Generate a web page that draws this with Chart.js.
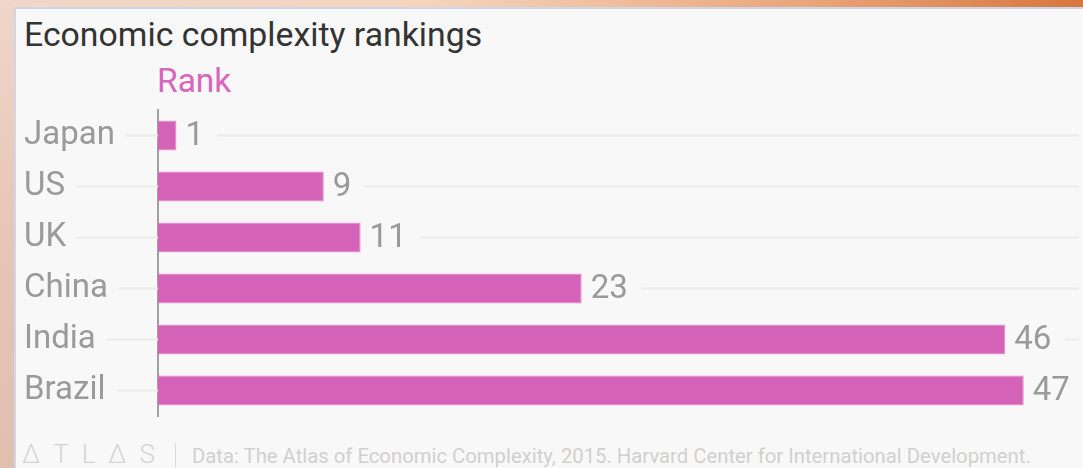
<!DOCTYPE html>
<html>
<head>
<meta charset="utf-8">
<script src="https://cdn.jsdelivr.net/npm/chart.js@4/dist/chart.umd.min.js"></script>
<style>
  html, body { margin: 0; padding: 0; }
  body { width: 1083px; height: 468px; position: relative; overflow: hidden; font-family: Roboto, sans-serif; }
  #topStrip { position: absolute; left: 0; top: 0; width: 1083px; height: 7px;
    background: linear-gradient(to right, #f0d6ca 0%, #f4d4bc 40%, #e9a57a 75%, #d7763f 100%); }
  #leftStrip { position: absolute; left: 0; top: 0; width: 14px; height: 468px;
    background: linear-gradient(to bottom, #f0d6ca 0%, #e6c6b6 50%, #dfbfae 100%); }
  #card { position: absolute; left: 14px; top: 7px; width: 1069px; height: 461px; background: #f8f8f8;
    border-left: 2px solid #cfd7e4; border-top: 2px solid #cfd7e4; box-sizing: border-box; }
  .txt { position: absolute; line-height: 1; white-space: nowrap; }
  #title { left: 24px; top: 18px; font-size: 33.8px; color: #333; }
  #rank { left: 157px; top: 64px; font-size: 33.5px; color: #d766bc; }
  #logo { left: 22px; top: 441px; font-size: 26px; color: #d4d4d4; letter-spacing: 13px; font-weight: 300; }
  #divider { position: absolute; left: 175px; top: 443px; width: 1px; height: 25px; background: #dcdcdc; }
  #source { left: 192px; top: 446px; font-size: 20.3px; color: #d0d0d0; }
  #chart { position: absolute; left: 0; top: 100px; }
</style>
</head>
<body>
<div id="topStrip"></div>
<div id="leftStrip"></div>
<div id="card"></div>
<div class="txt" id="title">Economic complexity rankings</div>
<div class="txt" id="rank">Rank</div>
<canvas id="chart" width="1083" height="326"></canvas>
<div class="txt" id="logo">ΔTLΔS</div>
<div id="divider"></div>
<div class="txt" id="source">Data: The Atlas of Economic Complexity, 2015. Harvard Center for International Development.</div>
<script>
const categories = ['Japan', 'US', 'UK', 'China', 'India', 'Brazil'];
const ranks = [1, 9, 11, 23, 46, 47];

const labelFont = '33px Roboto';
const grey = '#9a9a9a';

// light row lines with gaps around the labels, plus the value labels
const rowLines = {
    id: 'rowLines',
    beforeDatasetsDraw(chart) {
        const {ctx, chartArea, scales: {x, y}} = chart;
        ctx.save();
        ctx.strokeStyle = '#ebebeb';
        ctx.lineWidth = 2;
        ctx.font = labelFont;
        categories.forEach((c, i) => {
            const yy = y.getPixelForValue(i);
            const labelEnd = y.left + ctx.measureText(c).width + 11;
            const valEnd = x.getPixelForValue(ranks[i]) + 9 + ctx.measureText(String(ranks[i])).width + 13;
            ctx.beginPath();
            ctx.moveTo(labelEnd, yy);
            ctx.lineTo(chartArea.left, yy);
            if (valEnd < chartArea.right) {
                ctx.moveTo(valEnd, yy);
                ctx.lineTo(chartArea.right, yy);
            }
            ctx.stroke();
        });
        ctx.restore();
    },
    afterDatasetsDraw(chart) {
        const {ctx} = chart;
        const meta = chart.getDatasetMeta(0);
        ctx.save();
        ctx.font = labelFont;
        ctx.fillStyle = grey;
        ctx.textAlign = 'left';
        ctx.textBaseline = 'middle';
        meta.data.forEach((bar, i) => {
            ctx.fillText(String(ranks[i]), bar.x + 9, bar.y + 1);
        });
        ctx.restore();
    }
};

var ctx = document.getElementById('chart').getContext('2d');
var chart = new Chart(ctx, {
    type: 'bar',
    data: {
        labels: categories,
        datasets: [{
            label: 'Rank',
            data: ranks,
            backgroundColor: '#d463b8',
            borderColor: '#de86c9',
            borderWidth: 1,
            barPercentage: 0.59,
            categoryPercentage: 1
        }]
    },
    options: {
        indexAxis: 'y',
        responsive: false,
        animation: false,
        devicePixelRatio: 1,
        layout: { padding: { left: 24, right: 4, top: 10, bottom: 10 } },
        plugins: { legend: { display: false }, tooltip: { enabled: false } },
        scales: {
            x: { display: false, min: 0, max: 50 },
            y: {
                grid: { display: false },
                border: { display: true, color: '#a0a0a0', width: 2 },
                ticks: { crossAlign: 'far', color: grey, font: { family: 'Roboto', size: 33 } },
                afterFit: (scale) => {
                    scale.width = 134;
                    scale.paddingTop = 0;
                    scale.paddingBottom = 0;
                }
            }
        }
    },
    plugins: [rowLines]
});
</script>
</body>
</html>
